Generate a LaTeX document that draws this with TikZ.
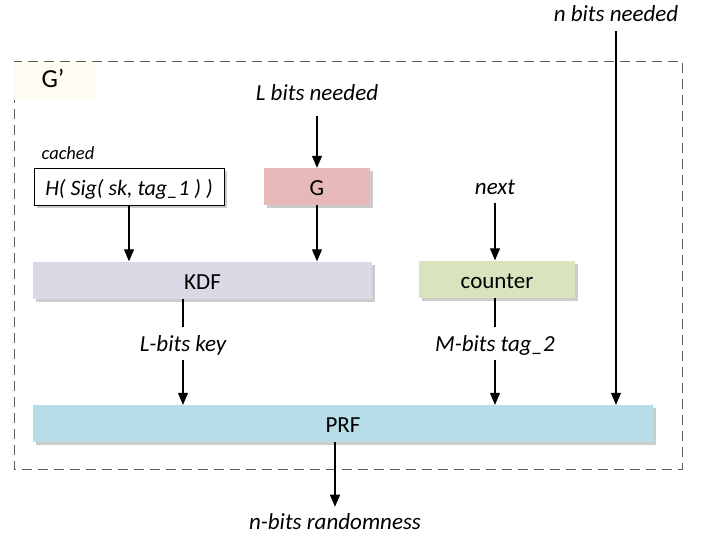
\documentclass[tikz,border=0pt]{standalone}
\usepackage{fontspec}
\setmainfont{Carlito}
\usetikzlibrary{arrows.meta,shadows}
\definecolor{gfill}{HTML}{E6B9B8}
\definecolor{kdffill}{HTML}{DDD8E6}
\definecolor{ctrfill}{HTML}{D7E4BD}
\definecolor{prffill}{HTML}{B7DDE8}
\definecolor{gpbg}{HTML}{FEFBF0}
\definecolor{framecol}{HTML}{606060}
\tikzset{
  box/.style={draw=none, minimum height=37pt, inner sep=0pt, font=\fontsize{23}{26}\selectfont,
    text height=18pt, text depth=0pt,
    drop shadow={opacity=0.4, shadow xshift=2.5pt, shadow yshift=-3pt}},
  lbl/.style={inner sep=0pt, font=\fontsize{23}{26}\selectfont\itshape},
  arr/.style={line width=1.1pt, -{Triangle[length=12pt,width=10pt]}},
  plain/.style={line width=1.1pt},
}
\begin{document}
\begin{tikzpicture}[x=1pt,y=-1pt]
\useasboundingbox (0,0) rectangle (709,539);
% frame
\draw[framecol, line width=0.9pt, dash pattern=on 10pt off 6pt] (14,61) rectangle (682,469);
\node[fill=gpbg, minimum width=81pt, minimum height=38pt, inner sep=0pt] (gpbox) at (54.5,80.5) {};
\node[inner sep=0pt, font=\fontsize{26}{29}\selectfont] (gp) at (53,78) {G’};
% boxes
\node[box, draw=black, line width=1pt, fill=white, minimum width=190pt, minimum height=37pt, drop shadow={opacity=0}] (h) at (129,186.5) {\fontsize{22}{25}\selectfont\itshape H( Sig( sk, tag\_1 ) )};
\node[box, fill=gfill, minimum width=106pt] (g) at (317,186.5) {G};
\node[box, fill=kdffill, minimum width=339pt] (kdf) at (202.5,280) {KDF};
\node[box, fill=ctrfill, minimum width=156pt] (ctr) at (497,279) {counter};
\node[box, fill=prffill, minimum width=620pt] (prf) at (343,423.5) {PRF};
% labels
\node[lbl] (nbits) at (616,14) {n bits needed};
\node[lbl] (lbits) at (317,93) {L bits needed};
\node[lbl, font=\fontsize{18.5}{21}\selectfont\itshape] (cached) at (68,153) {cached};
\node[lbl] (next) at (495,187) {next};
\node[lbl] (lkey) at (183,345) {L-bits key};
\node[lbl] (mtag) at (495,345) {M-bits tag\_2};
\node[lbl] (nrand) at (335,522) {n-bits randomness};
% connectors
\draw[arr] ([yshift=-9pt]nbits.south) -- (nbits |- prf.north);
\draw[arr] ([yshift=-15pt]lbits.south) -- (lbits |- g.north);
\draw[arr] (h.south) -- (h |- kdf.north);
\draw[arr] (g.south) -- (g |- kdf.north);
\draw[arr] ([yshift=-8pt]next.south) -- (next |- ctr.north);
\draw[plain] (lkey |- kdf.south) -- ([yshift=8pt]lkey.north);
\draw[arr] ([yshift=-5pt]lkey.south) -- (lkey |- prf.north);
\draw[plain] (mtag |- ctr.south) -- ([yshift=8pt]mtag.north);
\draw[arr] ([yshift=-5pt]mtag.south) -- (mtag |- prf.north);
\draw[arr] (nrand |- prf.south) -- ([yshift=7pt]nrand.north);
\end{tikzpicture}
\end{document}
